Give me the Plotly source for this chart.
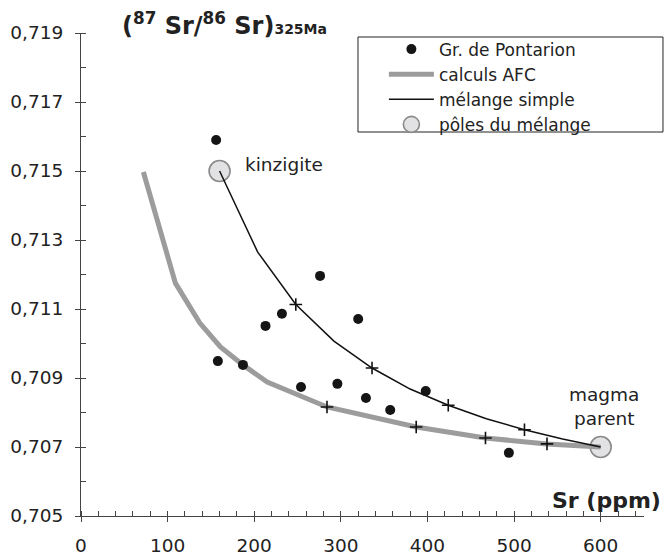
import plotly.graph_objects as go

# ---- data ----
sr_granite = [156, 158, 187, 213, 232, 276, 320, 254, 296, 329, 357, 398, 494]
r_granite = [0.71590, 0.70949, 0.70938, 0.71051, 0.71086, 0.71196, 0.71071,
             0.70874, 0.70883, 0.70842, 0.70807, 0.70862, 0.70683]

sr_afc = [72, 109, 137, 161, 187, 215, 284, 387, 467, 538, 600]
r_afc = [0.71497, 0.71175, 0.71060, 0.70990, 0.70938, 0.70888, 0.70816,
         0.70758, 0.70726, 0.70709, 0.70700]
sr_afc_ticks = [284, 387, 467, 538]
r_afc_ticks = [0.70816, 0.70758, 0.70726, 0.70709]

sr_mix = [160, 204, 248, 292, 336, 380, 424, 468, 512, 556, 600]
r_mix = [0.71500, 0.71265, 0.71113, 0.71007, 0.70929, 0.70868, 0.70821,
         0.70782, 0.70750, 0.70723, 0.70700]
sr_mix_ticks = [248, 336, 424, 512]
r_mix_ticks = [0.71113, 0.70929, 0.70821, 0.70750]

sr_poles = [160, 600]
r_poles = [0.715, 0.707]

y_ticks = [0.705, 0.707, 0.709, 0.711, 0.713, 0.715, 0.717, 0.719]
x_ticks = [0, 100, 200, 300, 400, 500, 600]

FONT = "DejaVu Sans"
TXT = "#222222"
AX = "#444444"

fig = go.Figure()

fig.add_trace(go.Scatter(
    x=sr_poles, y=r_poles, mode="markers", name="pôles du mélange",
    marker=dict(size=21, color="#e2e2e4", line=dict(color="#8a8a8a", width=1.6)),
    legendrank=4, cliponaxis=False))

fig.add_trace(go.Scatter(
    x=sr_afc, y=r_afc, mode="lines", name="calculs AFC",
    line=dict(color="#9c9c9c", width=5), legendrank=2))

fig.add_trace(go.Scatter(
    x=sr_mix, y=r_mix, mode="lines", name="mélange simple",
    line=dict(color="#111111", width=1.5), legendrank=3))

fig.add_trace(go.Scatter(
    x=sr_granite, y=r_granite, mode="markers", name="Gr. de Pontarion",
    marker=dict(size=10, color="#151515"), legendrank=1))

# + ticks on the curves (drawn on the overlay axes, which match the main ones)
for xs, ys in ((sr_afc_ticks, r_afc_ticks), (sr_mix_ticks, r_mix_ticks)):
    fig.add_trace(go.Scatter(
        x=xs, y=ys, mode="markers", showlegend=False, xaxis="x2", yaxis="y2",
        marker=dict(symbol="cross-thin", size=9, line=dict(color="#111111", width=1.6))))

axis_common = dict(
    showgrid=False, zeroline=False, showline=True, linecolor=AX, linewidth=1,
    ticks="outside", ticklen=5, tickcolor=AX, tickwidth=1, automargin=False,
    tickfont=dict(family=FONT, size=18.5, color=TXT),
)

fig.update_layout(
    width=667, height=559,
    margin=dict(l=81, r=23, t=33, b=43, autoexpand=False),
    paper_bgcolor="white", plot_bgcolor="white",
    separators=", ",
    font=dict(family=FONT, color=TXT),
    xaxis=dict(range=[0, 650], tickvals=x_ticks, ticklabelstandoff=8,
               minor=dict(dtick=20, ticks="inside", ticklen=5, tickcolor=AX),
               **axis_common),
    yaxis=dict(range=[0.705, 0.719], tickvals=y_ticks, tickformat=".3f",
               ticklabelstandoff=8,
               minor=dict(dtick=0.001, ticks="inside", ticklen=5, tickcolor=AX),
               **axis_common),
    xaxis2=dict(overlaying="x", matches="x", anchor="y2", side="bottom",
                showgrid=False, zeroline=False, showline=False, automargin=False,
                tickvals=x_ticks, ticks="inside", ticklen=5, tickcolor=AX,
                showticklabels=False),
    yaxis2=dict(overlaying="y", matches="y", anchor="x2", side="left",
                showgrid=False, zeroline=False, showline=False, automargin=False,
                tickvals=y_ticks, ticks="inside", ticklen=5, tickcolor=AX,
                showticklabels=False),
    legend=dict(x=0.538, y=1.003, xanchor="left", yanchor="top",
                bgcolor="rgba(0,0,0,0)", borderwidth=0, itemwidth=45,
                font=dict(family=FONT, size=17, color=TXT),
                tracegroupgap=0),
    showlegend=True,
)

# legend frame
fig.add_shape(type="rect", xref="paper", yref="paper",
              x0=0.492, x1=1.0337, y0=0.795, y1=0.9917,
              line=dict(color="#222222", width=1), fillcolor="rgba(0,0,0,0)")

fig.add_annotation(
    xref="paper", yref="paper", x=0.0693, y=0.981, xanchor="left", yanchor="bottom",
    text="<b>(<sup>87</sup> Sr/<sup>86</sup> Sr)<span style='font-size:14px'>325Ma</span></b>",
    showarrow=False, font=dict(family=FONT, size=24, color=TXT))

fig.add_annotation(
    xref="paper", yref="paper", x=1.0337, y=0.033, xanchor="right", yanchor="middle",
    text="<b>Sr (ppm)</b>", showarrow=False,
    font=dict(family=FONT, size=22, color=TXT))

fig.add_annotation(
    x=187, y=0.7152, xanchor="left", yanchor="middle", text="kinzigite",
    showarrow=False, font=dict(family=FONT, size=18.5, color=TXT))

fig.add_annotation(
    x=604, y=0.70817, xanchor="center", yanchor="middle", text="magma<br>parent",
    showarrow=False, font=dict(family=FONT, size=18.5, color=TXT))

fig.write_html("out.html")
